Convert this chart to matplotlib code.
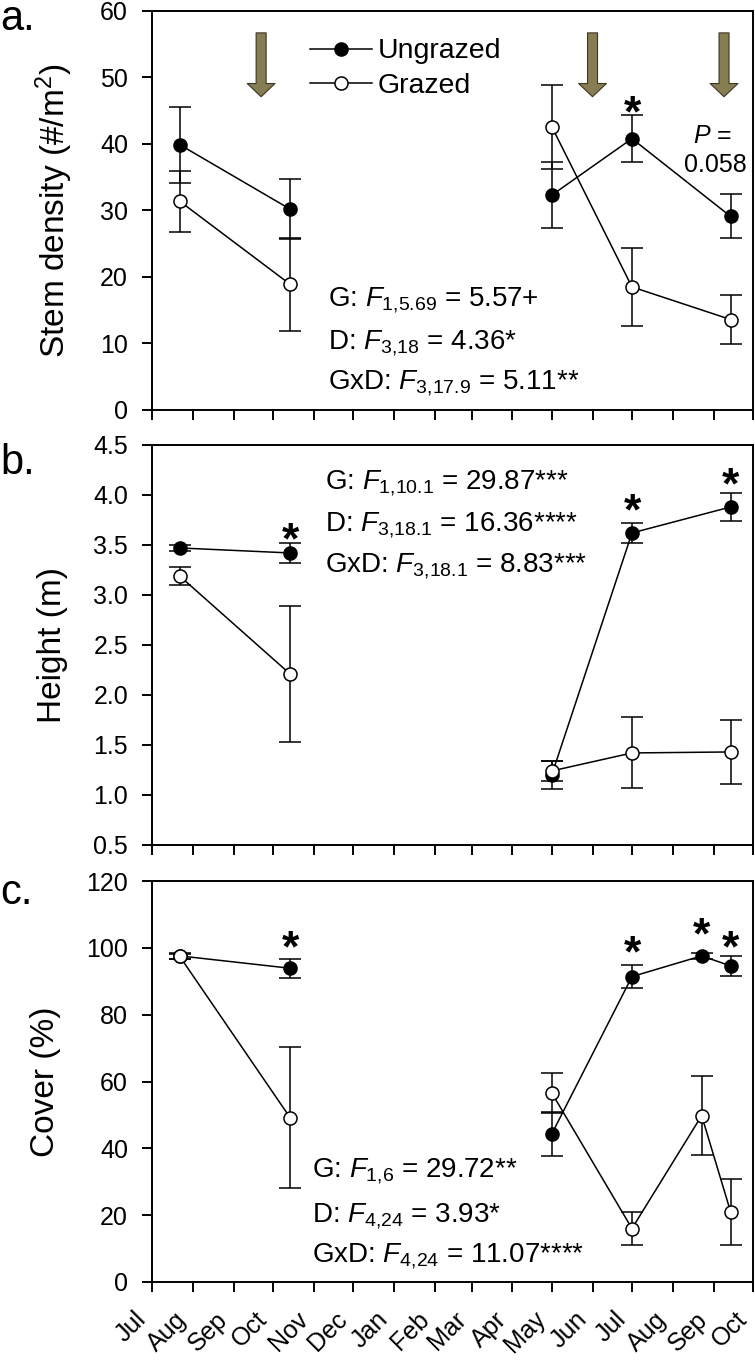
import datetime as dt
import numpy as np
import matplotlib.pyplot as plt
import matplotlib.dates as mdates
from matplotlib.transforms import ScaledTranslation

plt.rcParams['font.family'] = ['Liberation Sans', 'DejaVu Sans']
plt.rcParams['mathtext.fontset'] = 'custom'
plt.rcParams['mathtext.rm'] = 'Liberation Sans'
plt.rcParams['mathtext.it'] = 'Liberation Sans:italic'
plt.rcParams['mathtext.bf'] = 'Liberation Sans:bold'

d = dt.date

# sampling dates (first season = first two dates)
dates5 = [d(2013, 7, 22), d(2013, 10, 14), d(2014, 5, 1), d(2014, 7, 1), d(2014, 9, 14)]
dates6 = [d(2013, 7, 22), d(2013, 10, 14), d(2014, 5, 1), d(2014, 7, 1), d(2014, 8, 23), d(2014, 9, 14)]

# a. stem density
dens_ung = [39.9, 30.2, 32.3, 40.8, 29.1]
dens_ung_se = [5.7, 4.5, 5.0, 3.5, 3.3]
dens_gra = [31.4, 18.9, 42.6, 18.5, 13.6]
dens_gra_se = [4.6, 7.0, 6.3, 5.8, 3.7]

# b. height
hgt_ung = [3.47, 3.42, 1.20, 3.62, 3.88]
hgt_ung_se = [0.03, 0.10, 0.14, 0.10, 0.14]
hgt_gra = [3.19, 2.21, 1.24, 1.42, 1.43]
hgt_gra_se = [0.09, 0.68, 0.10, 0.355, 0.32]

# c. cover
cov_ung = [97.6, 93.9, 44.3, 91.4, 97.6, 94.6]
cov_ung_se = [0.8, 2.9, 6.6, 3.4, 0.8, 3.0]
cov_gra = [97.5, 49.2, 56.6, 16.0, 49.8, 21.0]
cov_gra_se = [0.8, 21.0, 6.0, 5.0, 11.7, 9.8]

# grazing events (arrows in panel a)
graze_dates = [d(2013, 9, 22), d(2014, 6, 1), d(2014, 9, 9)]

# significance stars
stars_a = [(d(2014, 7, 1), 45.9)]
stars_b = [(d(2013, 10, 14), 3.63), (d(2014, 7, 1), 3.92), (d(2014, 9, 14), 4.18)]
stars_c = [(d(2013, 10, 14), 102.3), (d(2014, 7, 1), 100.8), (d(2014, 8, 23), 106.3), (d(2014, 9, 14), 102.3)]

stats_a = [r'G: $F_{1{,}5.69}$ = 5.57+', r'D: $F_{3{,}18}$ = 4.36*', r'GxD: $F_{3{,}17.9}$ = 5.11**']
stats_b = [r'G: $F_{1{,}10.1}$ = 29.87***', r'D: $F_{3{,}18.1}$ = 16.36****', r'GxD: $F_{3{,}18.1}$ = 8.83***']
stats_c = [r'G: $F_{1{,}6}$ = 29.72**', r'D: $F_{4{,}24}$ = 3.93*', r'GxD: $F_{4{,}24}$ = 11.07****']

FS = 18
lw = 1.1
ms = 9.4

fig = plt.figure(figsize=(7.55, 13.67), dpi=100)
ax_a = fig.add_axes([0.2013, 0.7001, 0.796, 0.2919])
ax_b = fig.add_axes([0.2013, 0.3819, 0.796, 0.2926])
ax_c = fig.add_axes([0.2013, 0.0622, 0.796, 0.2933])


def draw_series(ax, x, y, se, filled, label):
    fc = 'black' if filled else 'white'
    ax.errorbar(x, y, yerr=se, fmt='none', ecolor='black', elinewidth=lw,
                capsize=8, capthick=lw, zorder=2)
    ax.plot(x[:2], y[:2], '-o', color='black', mfc=fc, mec='black', ms=ms,
            mew=lw, lw=lw, label=label, zorder=3)
    ax.plot(x[2:], y[2:], '-o', color='black', mfc=fc, mec='black', ms=ms,
            mew=lw, lw=lw, zorder=3)


def style(ax, ylim, yticks, ylabel, fmt=None):
    ax.set_xlim(d(2013, 7, 1), d(2014, 10, 1))
    ax.set_ylim(*ylim)
    ax.set_yticks(yticks)
    if fmt:
        ax.set_yticklabels([fmt % v for v in yticks])
    ax.xaxis.set_major_locator(mdates.MonthLocator())
    ax.xaxis.set_major_formatter(mdates.DateFormatter('%b'))
    for s in ax.spines.values():
        s.set_linewidth(1.4)
    ax.tick_params(direction='out', length=7.2, width=1.4, labelsize=FS, pad=10)
    ax.set_ylabel(ylabel, fontsize=24, labelpad=18)


for ax, x, ung, ungse, gra, grase in [
        (ax_a, dates5, dens_ung, dens_ung_se, dens_gra, dens_gra_se),
        (ax_b, dates5, hgt_ung, hgt_ung_se, hgt_gra, hgt_gra_se),
        (ax_c, dates6, cov_ung, cov_ung_se, cov_gra, cov_gra_se)]:
    draw_series(ax, x, ung, ungse, True, 'Ungrazed')
    draw_series(ax, x, gra, grase, False, 'Grazed')

style(ax_a, (0, 60), np.arange(0, 61, 10), r'Stem density (#/m$^2$)')
style(ax_b, (0.5, 4.5), np.arange(0.5, 4.51, 0.5), 'Height (m)', '%.1f')
style(ax_c, (0, 120), np.arange(0, 121, 20), 'Cover (%)')

ax_a.tick_params(labelbottom=False)
ax_b.tick_params(labelbottom=False)
ax_c.tick_params(axis='x', pad=12)
shift = ScaledTranslation(-0.045, -0.12, fig.dpi_scale_trans)
for lab in ax_c.get_xticklabels():
    lab.set_rotation(45)
    lab.set_ha('right')
    lab.set_va('baseline')
    lab.set_rotation_mode('anchor')
    lab.set_transform(lab.get_transform() + shift)

# grazing arrows
for gd in graze_dates:
    ax_a.annotate('', xy=(gd, 47.1), xytext=(gd, 56.7),
                  arrowprops=dict(arrowstyle='simple,head_length=0.95,head_width=2.0,tail_width=0.72',
                                  mutation_scale=10, fc='#877d52', ec='#3b3626', lw=0.8,
                                  shrinkA=0, shrinkB=0))

# stars
for ax, stars in [(ax_a, stars_a), (ax_b, stars_b), (ax_c, stars_c)]:
    for sx, sy in stars:
        ax.annotate('*', xy=(sx, sy), xytext=(0, -7), textcoords='offset points',
                    fontsize=32, fontweight='bold', ha='center', va='center')

# statistics
for ax, lines, x0, ys in [(ax_a, stats_a, 0.293, [0.261, 0.153, 0.053]),
                          (ax_b, stats_b, 0.288, [0.890, 0.785, 0.6825]),
                          (ax_c, stats_c, 0.266, [0.262, 0.150, 0.050])]:
    for t, yy in zip(lines, ys):
        ax.text(x0, yy, t, transform=ax.transAxes, fontsize=20, ha='left', va='baseline')

ax_a.text(0.932, 0.669, r'$P$ =', transform=ax_a.transAxes, fontsize=FS, ha='center', va='baseline')
ax_a.text(0.938, 0.596, '0.058', transform=ax_a.transAxes, fontsize=FS, ha='center', va='baseline')

ax_a.legend(loc='upper left', bbox_to_anchor=(0.263, 0.931), frameon=False, fontsize=20.5,
            borderpad=0, borderaxespad=0, handlelength=2.18, handletextpad=0.21,
            labelspacing=0.3, numpoints=1)

for lab, yy in [('a.', 1 - 30 / 1367), ('b.', 1 - 474 / 1367), ('c.', 1 - 904 / 1367)]:
    fig.text(0.0, yy, lab, fontsize=30, ha='left', va='baseline')

fig.savefig('out.png', dpi=100)
